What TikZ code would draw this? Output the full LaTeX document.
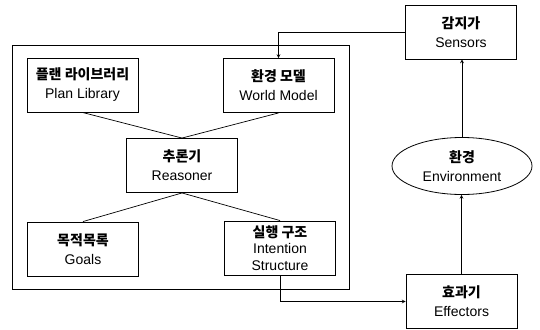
\documentclass[tikz,border=0pt]{standalone}
\usepackage{fontspec}
\setmainfont{Liberation Sans}
\newfontfamily\kr{Noto Sans CJK KR}
\usetikzlibrary{shapes, arrows}
\tikzset{%
    unit/.style={%
        draw, align = center, minimum width = 111pt, minimum height = 54pt, line width=0.9pt, inner sep=1pt,
        font=\fontsize{14}{19}\selectfont
    }
}
\tikzstyle{env}=[draw, ellipse, minimum width=140pt, minimum height=57pt, line width=0.8pt,
    align=center, font=\fontsize{14}{19}\selectfont]
\tikzstyle{link}=[line width=0.7pt]

\begin{document}
\begin{tikzpicture}[x=1pt,y=-1pt]
  \useasboundingbox (0,0) rectangle (540,329);

  % agent frame
  \draw[line width=0.9pt] (12,45) rectangle (349,289);

  \node[unit] (PL) at (82.5,85) {{\kr\bfseries 플랜 라이브러리}\\Plan Library};
  \node[unit] (WM) at (278.5,85.5) {{\kr\bfseries 환경 모델}\\World Model};
  \node[unit] (RS) at (182,165.5) {{\kr\bfseries 추론기}\\Reasoner};
  \node[unit] (GL) at (83,249) {{\kr\bfseries 목적목록}\\Goals};
  \node[unit, font=\fontsize{14}{16.5}\selectfont] (IS) at (280,248) {{\kr\bfseries 실행 구조}\\Intention\\Structure};

  %
  \node[unit] (SN) at (461,32) {{\kr\bfseries 감지가}\\Sensors};
  \node[env] (EN) at (462,166) {{\kr\bfseries 환경}\\Environment};
  \node[unit] (EF) at (461.5,301.5) {{\kr\bfseries 효과기}\\Effectors};

  \draw[link] (PL.south)--(RS.north) ;
  \draw[link] (WM.south)--(RS.north) ;
  \draw[link] (RS.south)--(GL.north) ;
  \draw[link] (RS.south)--(IS.north) ;

  \draw[->,>=stealth,link] (SN.west) -| (WM.north) ;
  \draw[->,>=stealth,link] (EN.north) -- (EN.north |- SN.south) ;
  \draw[->,>=stealth,link] (EF.north) -- (EF.north |- EN.south) ;
  \draw[->,>=stealth,link] (IS.south) |- (EF.west) ;
\end{tikzpicture}
\end{document}
